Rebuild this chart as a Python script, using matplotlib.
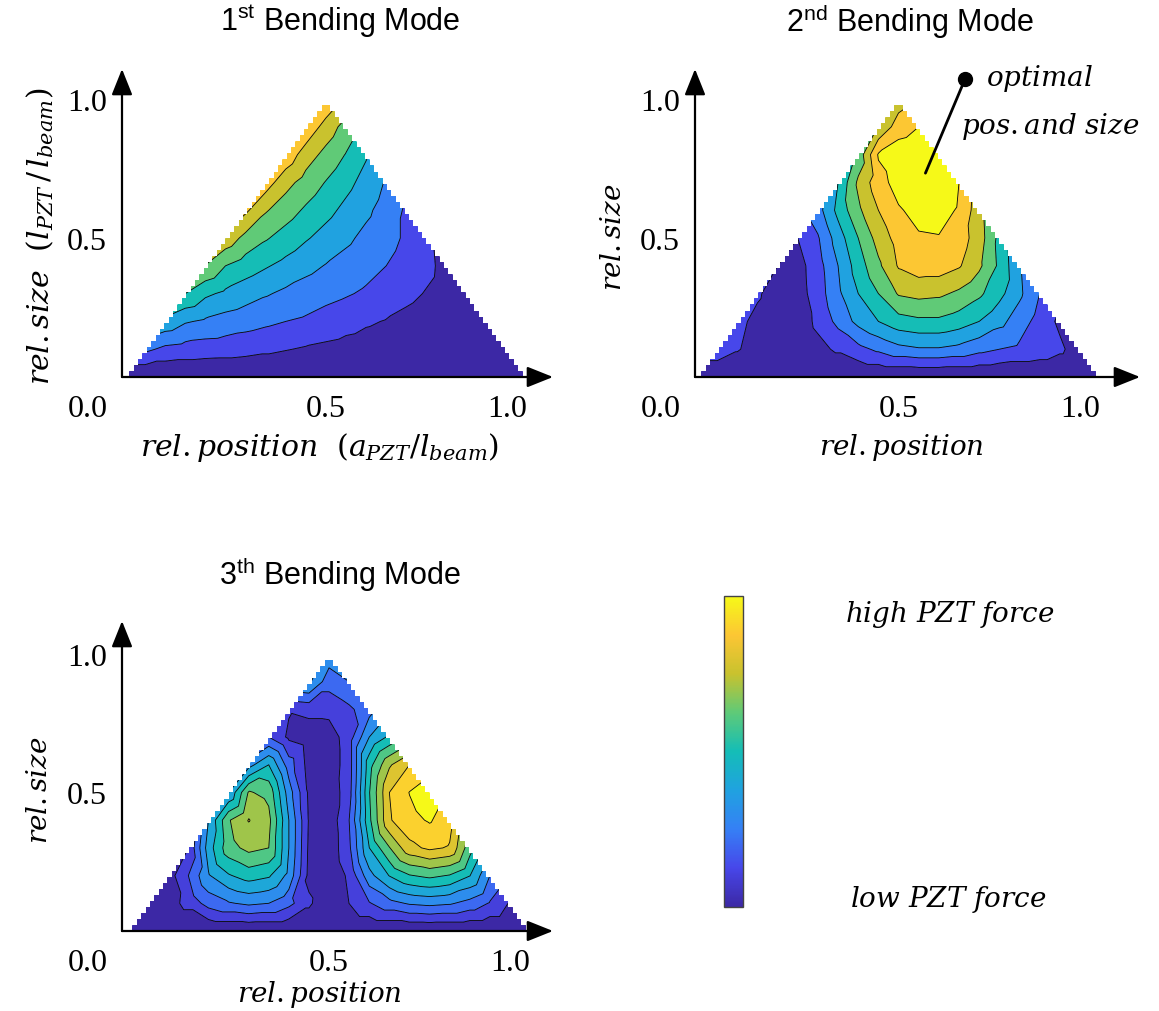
import numpy as np
import matplotlib
matplotlib.use("Agg")
import matplotlib.pyplot as plt
import matplotlib.tri as mtri
from matplotlib.colors import LinearSegmentedColormap
from matplotlib.cm import ScalarMappable
from matplotlib.patches import Polygon

plt.rcParams['font.family'] = ['Liberation Serif', 'DejaVu Serif']
plt.rcParams['mathtext.fontset'] = 'custom'
plt.rcParams['mathtext.rm'] = 'DejaVu Serif'
plt.rcParams['mathtext.it'] = 'DejaVu Serif:italic'
plt.rcParams['mathtext.bf'] = 'DejaVu Serif:bold'
plt.rcParams['mathtext.sf'] = 'Liberation Sans'

# parula-like band colours (low -> high)
band_colors = ['#3c28a5', '#4747ea', '#3580f5', '#20a2e0', '#14bdb7',
               '#5eca78', '#c8c22e', '#fcc634', '#f6f918']
parula = LinearSegmentedColormap.from_list('parula', band_colors)

# grid: rel. size rows in steps of 0.1, rel. position in steps of 0.05,
# each row starts at size/2 and ends at 1 - size/2 (triangle domain)
size_step = 0.1
pos_step = 0.05

# PZT force level (band index scale) - 1st bending mode
mode1 = [
    [0, 0, 0, 0, 0, 0, 0, 0, 0, 0, 0, 0, 0, 0, 0, 0, 0, 0, 0, 0, 0],
    [2.25, 1.75, 1.6, 1.5, 1.45, 1.35, 1.2, 1.05, 0.9, 0.78, 0.66, 0.56, 0.47, 0.38, 0.29, 0.2, 0.13, 0.07, 0.03],
    [3.7, 3.1, 2.85, 2.6, 2.4, 2.2, 2.0, 1.85, 1.6, 1.35, 1.12, 0.95, 0.78, 0.6, 0.42, 0.27, 0.12],
    [5.0, 4.2, 3.8, 3.45, 3.1, 2.8, 2.55, 2.3, 2.1, 1.85, 1.55, 1.2, 0.95, 0.7, 0.45],
    [5.95, 5.0, 4.5, 4.1, 3.7, 3.3, 2.95, 2.65, 2.35, 2.0, 1.6, 1.2, 0.75],
    [6.65, 5.7, 5.1, 4.6, 4.1, 3.65, 3.2, 2.75, 2.35, 1.85, 1.15],
    [7.2, 6.1, 5.45, 4.85, 4.3, 3.75, 3.2, 2.6, 1.85],
    [7.5, 6.35, 5.6, 4.95, 4.3, 3.65, 2.9],
    [7.7, 6.5, 5.7, 4.95, 4.1],
    [7.78, 6.6, 5.6],
    [7.85],
]

# 2nd bending mode
mode2 = [
    [0, 0, 0, 0, 0, 0, 0, 0, 0, 0, 0, 0, 0, 0, 0, 0, 0, 0, 0, 0, 0],
    [1.7, 1.1, 0.5, 0.25, 0.35, 0.75, 1.15, 1.7, 2.2, 2.7, 2.9, 2.9, 2.7, 2.3, 2.0, 1.8, 1.6, 1.2, 0.45],
    [1.3, 0.7, 0.3, 0.5, 1.2, 2.3, 3.3, 4.0, 4.6, 4.8, 4.8, 4.5, 4.0, 3.3, 2.5, 1.6, 0.8],
    [1.15, 0.45, 0.55, 1.5, 2.8, 4.0, 5.0, 6.1, 6.3, 6.2, 5.8, 5.2, 4.3, 3.2, 2.0],
    [1.0, 0.6, 1.6, 3.0, 4.5, 5.8, 7.1, 7.5, 7.5, 7.1, 6.2, 4.8, 3.1],
    [1.0, 1.9, 3.5, 5.0, 6.4, 7.4, 7.9, 7.95, 7.5, 6.5, 4.7],
    [2.6, 4.3, 5.8, 7.0, 7.9, 8.3, 8.35, 7.9, 6.4],
    [4.0, 6.2, 7.6, 8.4, 8.8, 8.8, 8.0],
    [5.3, 8.1, 8.6, 8.8, 8.6],
    [6.1, 7.5, 8.0],
    [6.5],
]

# 3rd bending mode
mode3 = [
    [0, 0, 0, 0, 0, 0, 0, 0, 0, 0, 0, 0, 0, 0, 0, 0, 0, 0, 0, 0, 0],
    [0.6, 0.6, 1.3, 2.4, 2.9, 3.2, 3.0, 2.3, 1.2, 0.05, 1.01, 1.92, 2.65, 3.12, 3.28, 3.12, 2.65, 1.92, 0.9],
    [0.5, 2.0, 3.9, 4.9, 5.45, 5.14, 3.7, 0.7, 0.17, 1.2, 3.66, 5.04, 5.93, 6.24, 5.93, 5.04, 3.0],
    [1.0, 4.5, 6.6, 7.3, 7.0, 4.0, 0.8, 0.3, 1.8, 4.99, 6.94, 8.7, 9.2, 8.9, 6.4],
    [4.0, 6.9, 8.05, 7.3, 4.0, 0.9, 0.32, 2.0, 5.76, 8.9, 9.7, 10.1, 9.4],
    [4.0, 7.1, 6.7, 3.5, 0.8, 0.3, 1.6, 5.94, 9.0, 10.03, 10.6],
    [3.6, 5.0, 2.5, 0.6, 0.4, 1.5, 5.61, 7.86, 9.0],
    [2.0, 0.8, 0.4, 0.5, 1.5, 4.0, 5.2],
    [1.1, 1.3, 1.3, 1.8, 2.6],
    [4.2, 2.4, 3.0],
    [3.6],
]

W, H = 1159, 1012
fig = plt.figure(figsize=(W / 100, H / 100), dpi=100)


def px_box(left, right, bottom, top):
    return [left / W, 1 - bottom / H, (right - left) / W, (bottom - top) / H]


def triangle_field(rows):
    xs, ys, zs = [], [], []
    for k, row in enumerate(rows):
        size = k * size_step
        for i, v in enumerate(row):
            xs.append(size / 2 + i * pos_step)
            ys.append(size)
            zs.append(v)
    return mtri.Triangulation(xs, ys), np.array(zs, dtype=float)


def stair_outline(n_steps=46):
    # saw-tooth outline of the sampled triangle, like the jagged border of the original
    h = 1.0 / n_steps
    left, right = [], []
    for k in range(n_steps):
        y0, y1 = k * h, (k + 1) * h
        left += [(y1 / 2, y0), (y1 / 2, y1)]
        right += [(1 - y1 / 2, y0), (1 - y1 / 2, y1)]
    return [(0, 0)] + left + [(0.5, 1.0)] + right[::-1] + [(1, 0)]


def draw_panel(box, xlim, ylim, rows, n_bands, title, title_xy, xlabel, xlabel_xy,
               ylabel, ylabel_xy, label_size=20):
    ax = fig.add_axes(box)
    tri, z = triangle_field(rows)
    levels = np.arange(n_bands + 1)
    colors = [parula(i / (n_bands - 1)) for i in range(n_bands)]
    clip = Polygon(stair_outline(), closed=True, transform=ax.transData,
                   facecolor='none', edgecolor='none')
    ax.add_patch(clip)
    cf = ax.tricontourf(tri, z, levels=levels, colors=colors, antialiased=True)
    cl = ax.tricontour(tri, z, levels=levels[1:-1], colors='k', linewidths=0.6)
    cf.set_clip_path(clip)
    cl.set_clip_path(clip)
    ax.set_xlim(xlim)
    ax.set_ylim(ylim)
    for s in ax.spines.values():
        s.set_visible(False)
    arrow = dict(arrowstyle='-|>,head_length=0.8,head_width=0.32', mutation_scale=20,
                 lw=1.6, color='k', shrinkA=0, shrinkB=0)
    ax.annotate('', xy=(1, 0), xytext=(0, 0), xycoords='axes fraction', arrowprops=arrow)
    ax.annotate('', xy=(0, 1), xytext=(0, 0), xycoords='axes fraction', arrowprops=arrow)

    ax.set_xticks([0.5, 1.0], ['0.5', '1.0'])
    ax.set_yticks([0.5, 1.0], ['0.5', '1.0'])
    ax.tick_params(axis='x', length=0, labelsize=23, pad=12)
    ax.tick_params(axis='y', length=0, labelsize=23, pad=11)
    ax.get_xticklabels()[1].set_horizontalalignment('right')
    ax.annotate('0.0', xy=(0, 0), xycoords='axes fraction', xytext=(-24.5, -23),
                textcoords='offset points', ha='center', va='center', fontsize=23)

    ax.text(title_xy[0], title_xy[1], title, transform=ax.transAxes, ha='center', va='center',
            fontsize=22, fontfamily='Liberation Sans')
    ax.set_xlabel(xlabel, fontsize=label_size)
    ax.xaxis.set_label_coords(*xlabel_xy)
    ax.xaxis.label.set_verticalalignment('center')
    ax.set_ylabel(ylabel, fontsize=label_size)
    ax.yaxis.set_label_coords(*ylabel_xy)
    ax.yaxis.label.set_verticalalignment('center')
    return ax, tri, z


ax1, _, _ = draw_panel(px_box(122, 553, 378, 70), (-0.0075, 1.065), (0, 1.108), mode1, 9,
                       r'1$^{\mathsf{st}}$ Bending Mode', (0.506, 1.158),
                       r'$rel.position\ \ (a_{PZT}/l_{beam})$', (0.459, -0.227),
                       r'$rel.size\ \ (l_{PZT}\,/\,l_{beam})$', (-0.19, 0.46), label_size=21.5)

ax2, tri2, z2 = draw_panel(px_box(695, 1140, 378, 70), (-0.005, 1.099), (0, 1.108), mode2, 9,
                           r'2$^{\mathsf{nd}}$ Bending Mode', (0.483, 1.158),
                           r'$rel.position$', (0.465, -0.227),
                           r'$rel.size$', (-0.18, 0.458))

ax3, _, _ = draw_panel(px_box(122, 553, 932, 622), (-0.015, 1.057), (0, 1.119), mode3, 11,
                       r'3$^{\mathsf{th}}$ Bending Mode', (0.506, 1.154),
                       r'$rel.position$', (0.459, -0.203),
                       r'$rel.size$', (-0.19, 0.458))

# optimum of the 2nd mode: mean of the grid points holding the maximum
best = z2 == z2.max()
opt = (tri2.x[best].mean(), tri2.y[best].mean())
dot = (0.665, 1.072)
ax2.annotate('', xy=opt, xytext=dot, arrowprops=dict(arrowstyle='-', lw=2, color='k',
             shrinkA=0, shrinkB=0), annotation_clip=False)
ax2.plot(*dot, 'o', color='k', ms=10, clip_on=False)
ax2.text(0.851, 1.079, r'$optimal$', ha='center', va='center', fontsize=20, clip_on=False)
ax2.text(0.876, 0.903, r'$pos.and\ size$', ha='center', va='center', fontsize=20, clip_on=False)

# colour bar
cax = fig.add_axes(px_box(724, 743, 908, 597))
cb = fig.colorbar(ScalarMappable(cmap=parula), cax=cax, orientation='vertical')
cb.set_ticks([])
cb.outline.set_linewidth(1)
cb.outline.set_edgecolor('#444444')
fig.text(950 / W, 1 - 614 / H, r'$high\ PZT\ force$', ha='center', va='center', fontsize=20)
fig.text(948 / W, 1 - 900 / H, r'$low\ PZT\ force$', ha='center', va='center', fontsize=20)

fig.savefig('out.png', dpi=100)
